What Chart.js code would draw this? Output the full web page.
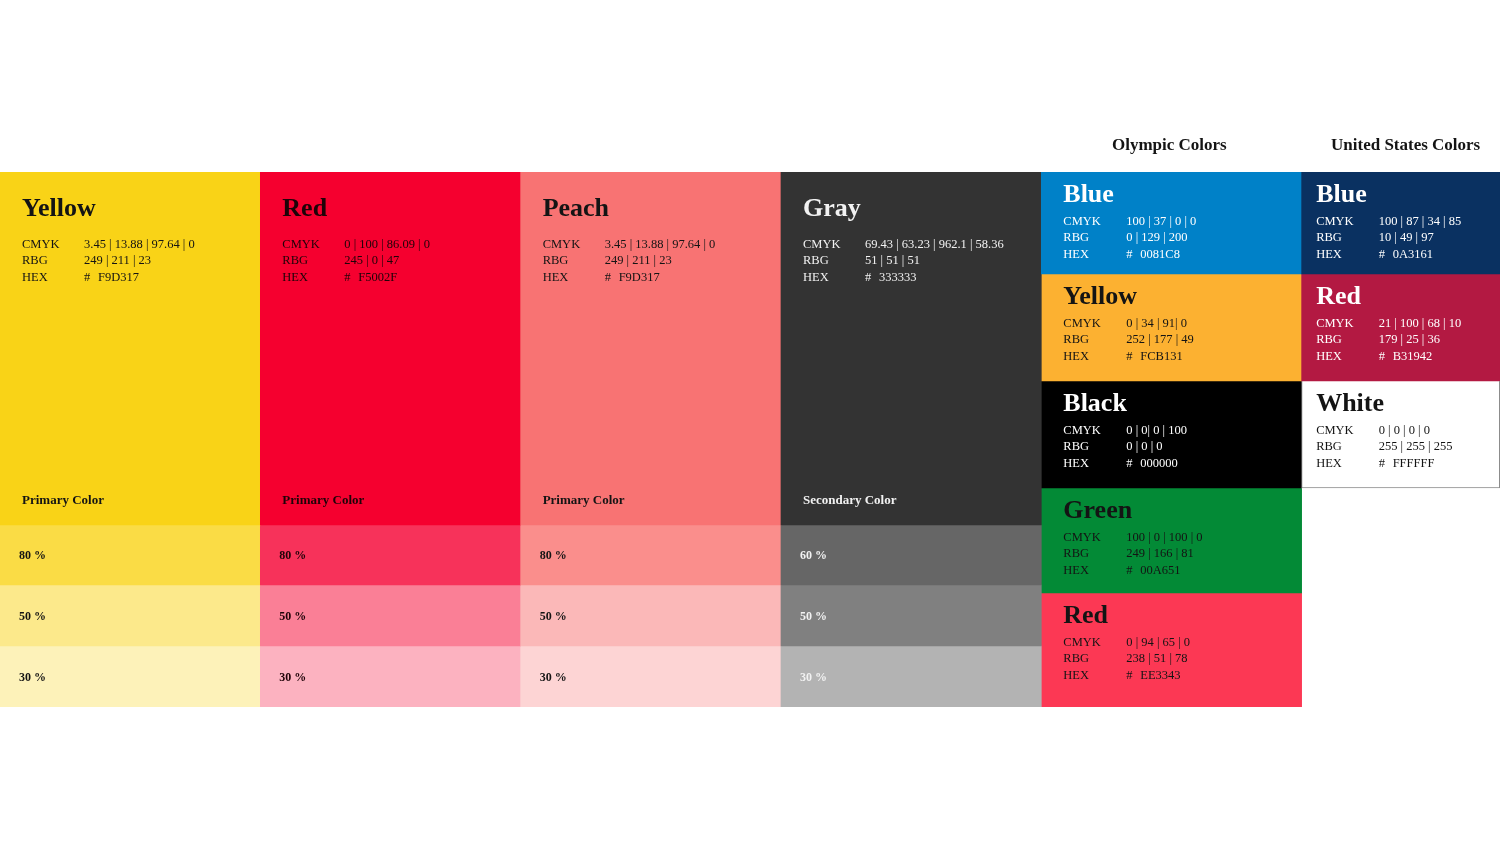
<!DOCTYPE html>
<html>
<head>
<meta charset="utf-8">
<title>Colour palette</title>
<script src="https://cdn.jsdelivr.net/npm/chart.js@4.4.1/dist/chart.umd.min.js"></script>
<style>
    html, body { margin: 0; padding: 0; background: #fff; overflow: hidden; }
    #wrap { position: relative; width: 1500px; height: 844px; }
</style>
</head>
<body>
<div id="wrap"><canvas id="palette_chart"></canvas></div>
<script>
// brand colours (first four columns): main swatch + three tints
var brand_names = ["Yellow", "Red", "Peach", "Gray"];
var brand_cmyk = ["3.45 | 13.88 | 97.64 | 0", "0 | 100 | 86.09 | 0", "3.45 | 13.88 | 97.64 | 0", "69.43 | 63.23 | 962.1 | 58.36"];
var brand_rgb = ["249 | 211 | 23", "245 | 0 | 47", "249 | 211 | 23", "51 | 51 | 51"];
var brand_hex = ["F9D317", "F5002F", "F9D317", "333333"];
var brand_roles = ["Primary Color", "Primary Color", "Primary Color", "Secondary Color"];
var brand_tints = [["80 %", "50 %", "30 %"], ["80 %", "50 %", "30 %"], ["80 %", "50 %", "30 %"], ["60 %", "50 %", "30 %"]];
var brand_heights = [353, 60, 61, 61];

// olympic colours (fifth column)
var olympic_names = ["Blue", "Yellow", "Black", "Green", "Red"];
var olympic_cmyk = ["100 | 37 | 0 | 0", "0 | 34 | 91| 0", "0 | 0| 0 | 100", "100 | 0 | 100 | 0", "0 | 94 | 65 | 0"];
var olympic_rgb = ["0 | 129 | 200", "252 | 177 | 49", "0 | 0 | 0", "249 | 166 | 81", "238 | 51 | 78"];
var olympic_hex = ["0081C8", "FCB131", "000000", "00A651", "EE3343"];
var olympic_heights = [102, 107, 107, 105, 114];

// united states colours (sixth column, cut by the page edge)
var us_names = ["Blue", "Red", "White"];
var us_cmyk = ["100 | 87 | 34 | 85", "21 | 100 | 68 | 10", "0 | 0 | 0 | 0"];
var us_rgb = ["10 | 49 | 97", "179 | 25 | 36", "255 | 255 | 255"];
var us_hex = ["0A3161", "B31942", "FFFFFF"];
var us_heights = [102, 107, 107];

var group_titles = ["Olympic Colors", "United States Colors"];

// fills and ink
var brand_fills = [
    ["#F9D317", "#FADC45", "#FCE98B", "#FDF2B9"],
    ["#F5002F", "#F7325A", "#FA7F96", "#FCB2C0"],
    ["#F87373", "#FA8E8C", "#FBB8B8", "#FDD4D4"],
    ["#333333", "#666666", "#808080", "#B3B3B3"]
];
var olympic_fills = ["#0081C8", "#FCB131", "#000000", "#038A36", "#FC3854"];
var us_fills = ["#0A3161", "#B31942", "#FFFFFF"];
var brand_ink = ["#141414", "#1e0308", "#141414", "#f2f2f2"];
var olympic_ink = ["#ffffff", "#141414", "#ffffff", "#141414", "#141414"];
var us_ink = ["#ffffff", "#ffffff", "#141414"];

var row_count = 5;
var column_index = [0, 1, 2, 3, 4, 5];
var visible_columns = 5.762; // the sixth column runs past the right edge

var row_values = (r) => {
    var vals = brand_names.map(() => brand_heights[r] || 0);
    vals.push(olympic_heights[r] || 0, us_heights[r] || 0);
    return vals.map((v, c) => ({ x: column_index[c], y: v }));
};

var row_colors = (r) => {
    var cols = brand_fills.map(f => f[r] || "#fff");
    cols.push(olympic_fills[r] || "#fff", us_fills[r] || "#fff");
    return cols;
};

var cell_info = (r, c) => {
    if (c < 4) {
        if (r == 0) return { kind: "main", name: brand_names[c], cmyk: brand_cmyk[c], rgb: brand_rgb[c], hex: brand_hex[c], role: brand_roles[c], ink: brand_ink[c] };
        return { kind: "tint", label: brand_tints[c][r - 1], ink: brand_ink[c] };
    }
    if (c == 4) return { kind: "block", name: olympic_names[r], cmyk: olympic_cmyk[r], rgb: olympic_rgb[r], hex: olympic_hex[r], ink: olympic_ink[r], inset: 22, valInset: 85 };
    if (r < us_names.length) return { kind: "block", name: us_names[r], cmyk: us_cmyk[r], rgb: us_rgb[r], hex: us_hex[r], ink: us_ink[r], inset: 14.5, valInset: 77 };
    return null;
};

var serif = "'Liberation Serif', 'DejaVu Serif', serif";

var draw_lines = (ctx, info, x, vx, y) => {
    ctx.font = "12.5px " + serif;
    ctx.fillText("CMYK", x, y);
    ctx.fillText(info.cmyk, vx, y);
    ctx.fillText("RBG", x, y + 16.3);
    ctx.fillText(info.rgb, vx, y + 16.3);
    ctx.fillText("HEX", x, y + 32.6);
    ctx.fillText("#", vx, y + 32.6);
    ctx.fillText(info.hex, vx + 14, y + 32.6);
};

var swatch_text = {
    id: "swatchText",
    afterDatasetsDraw(chart) {
        var ctx = chart.ctx;
        var area = chart.chartArea;
        ctx.save();
        ctx.textBaseline = "alphabetic";
        ctx.textAlign = "left";
        for (var r = 0; r < row_count; r++) {
            var meta = chart.getDatasetMeta(r);
            meta.data.forEach((el, c) => {
                var p = el.getProps(["x", "y", "base", "width"], true);
                var top = Math.min(p.y, p.base), bottom = Math.max(p.y, p.base);
                if (bottom - top < 1) return;
                var left = p.x - p.width / 2;
                var info = cell_info(r, c);
                if (!info) return;
                ctx.fillStyle = info.ink;
                if (info.kind == "main") {
                    ctx.font = "bold 26px " + serif;
                    ctx.fillText(info.name, left + 22, top + 44);
                    draw_lines(ctx, info, left + 22, left + 84, top + 76);
                    ctx.font = "bold 13px " + serif;
                    ctx.fillText(info.role, left + 22, bottom - 21);
                } else if (info.kind == "tint") {
                    ctx.font = "bold 12px " + serif;
                    ctx.fillText(info.label, left + 19, (top + bottom) / 2 + 4);
                } else {
                    ctx.font = "bold 26px " + serif;
                    ctx.fillText(info.name, left + info.inset, top + 30);
                    draw_lines(ctx, info, left + info.inset, left + info.valInset, top + 53);
                }
                // outline of the white swatch where the page edge cuts it
                if (c == 5 && us_fills[r] == "#FFFFFF" && left + p.width > area.right) {
                    ctx.strokeStyle = "#8c8c8c";
                    ctx.lineWidth = 1;
                    ctx.beginPath();
                    ctx.moveTo(area.right - 0.5, top);
                    ctx.lineTo(area.right - 0.5, bottom);
                    ctx.stroke();
                }
            });
        }
        // group headings over the last two columns
        var first = chart.getDatasetMeta(0).data;
        var header_offsets = [128, 104];
        ctx.fillStyle = "#141414";
        ctx.font = "bold 17px " + serif;
        ctx.textAlign = "center";
        [4, 5].forEach((c, i) => {
            var p = first[c].getProps(["x", "width"], true);
            ctx.fillText(group_titles[i], p.x - p.width / 2 + header_offsets[i], area.top - 22);
        });
        ctx.restore();
    }
};

var datasets = [];
for (var r = 0; r < row_count; r++) {
    datasets.push({
        label: "row " + (r + 1),
        data: row_values(r),
        backgroundColor: row_colors(r),
        borderColor: "#8c8c8c",
        borderWidth: r == 2 ? [0, 0, 0, 0, 0, 1] : 0,
        barPercentage: 1,
        categoryPercentage: 1
    });
}

var create_chart = () => {
    var canva = $("#palette_chart");
    new Chart(canva, {
        type: "bar",
        data: { datasets: datasets },
        options: {
            responsive: true,
            maintainAspectRatio: false,
            animation: false,
            layout: { padding: { top: 172, bottom: 137, left: 0, right: 0 } },
            scales: {
                x: {
                    type: "linear", min: -0.5, max: -0.5 + visible_columns, offset: false, stacked: true, display: false,
                    // one tick per column so bars take the full column width
                    afterBuildTicks: (axis) => { axis.ticks = column_index.map(v => ({ value: v })); }
                },
                y: { min: 0, max: 535, reverse: true, stacked: true, display: false }
            },
            plugins: { legend: { display: false }, tooltip: { enabled: false } }
        },
        plugins: [swatch_text]
    });
};

var $ = (sel) => document.querySelector(sel);
create_chart();
</script>
</body>
</html>
